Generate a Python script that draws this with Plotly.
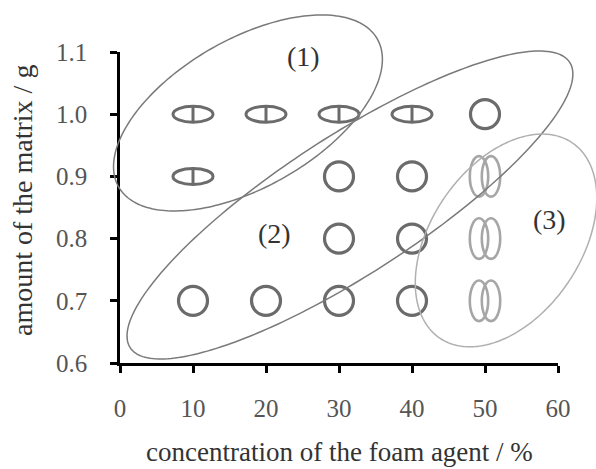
import numpy as np
import plotly.graph_objects as go

# ---------------- data ----------------
# region (1): flattened ellipse with a vertical bar
type1_x = [10, 20, 30, 40, 10]
type1_y = [1.0, 1.0, 1.0, 1.0, 0.9]
# region (2): circles
type2_x = [50, 30, 40, 30, 40, 10, 20, 30, 40]
type2_y = [1.0, 0.9, 0.9, 0.8, 0.8, 0.7, 0.7, 0.7, 0.7]
# region (3): double vertical ellipse
type3_x = [50, 50, 50]
type3_y = [0.9, 0.8, 0.7]

x_ticks = [0, 10, 20, 30, 40, 50, 60]
y_ticks = [0.6, 0.7, 0.8, 0.9, 1.0, 1.1]
y_ticktext = ["0.6", "0.7", "0.8", "0.9", "1.0", "1.1"]

region_labels = ["(1)", "(2)", "(3)"]
region_label_x = [25.1, 21.1, 58.9]
region_label_y = [1.093, 0.808, 0.830]

# enclosing regions: centre (data units), semi-axes (px), tilt (deg)
region_cx = [17.53, 31.5, 52.88]
region_cy = [1.002, 0.854, 0.797]
region_a = [149, 262, 118]
region_b = [74, 69, 75]
region_tilt = [29.8, 33.0, 55.9]
region_color = ["#7a7a7a", "#7a7a7a", "#b0b0b0"]

X_RANGE = [0, 60]
Y_RANGE = [0.6, 1.1]

# ---------------- layout geometry ----------------
W, H = 596, 469
ML, MR, MT, MB = 120, 38, 52, 106
PW, PH = W - ML - MR, H - MT - MB

SERIF = "Liberation Serif, Times New Roman, serif"
DARK = "#6b6b6b"
LIGHT = "#a6a6a6"

fig = go.Figure()

fig.add_trace(go.Scatter(
    x=type2_x, y=type2_y, mode="markers",
    marker=dict(symbol="circle-open", size=29, color=DARK,
                line=dict(width=3.2, color=DARK)),
    hoverinfo="skip", showlegend=False))

shapes = []
# type 1 markers
for x, y in zip(type1_x, type1_y):
    common = dict(xref="x", yref="y", xsizemode="pixel", ysizemode="pixel",
                  xanchor=x, yanchor=y, line=dict(color=DARK, width=3))
    shapes.append(dict(type="circle", x0=-20, x1=20, y0=-8, y1=8, **common))
    shapes.append(dict(type="line", x0=0, x1=0, y0=-8, y1=8, **common))
# type 3 markers
for x, y in zip(type3_x, type3_y):
    for off in (-6, 6):
        shapes.append(dict(type="circle", xref="x", yref="y",
                           xsizemode="pixel", ysizemode="pixel",
                           xanchor=x, yanchor=y,
                           x0=off - 9.2, x1=off + 9.2, y0=-20.3, y1=20.3,
                           line=dict(color=LIGHT, width=2.6)))

# enclosing ellipses (paper coordinates so they may leave the plot area)
t = np.linspace(0, 2 * np.pi, 241)
for cx, cy, a, b, ang, col in zip(region_cx, region_cy, region_a, region_b,
                                  region_tilt, region_color):
    th = np.radians(ang)
    dxp = a * np.cos(th) * np.cos(t) - b * np.sin(th) * np.sin(t)
    dyp = a * np.sin(th) * np.cos(t) + b * np.cos(th) * np.sin(t)
    px = (cx - X_RANGE[0]) / (X_RANGE[1] - X_RANGE[0]) + dxp / PW
    py = (cy - Y_RANGE[0]) / (Y_RANGE[1] - Y_RANGE[0]) + dyp / PH
    path = "M " + " L ".join(f"{u:.5f},{v:.5f}" for u, v in zip(px, py)) + " Z"
    shapes.append(dict(type="path", xref="paper", yref="paper", path=path,
                       line=dict(color=col, width=1.5), layer="above"))

annotations = []
for txt, x, y in zip(region_labels, region_label_x, region_label_y):
    annotations.append(dict(x=x, y=y, xref="x", yref="y", text=txt,
                            showarrow=False,
                            font=dict(family=SERIF, size=28, color="#333333")))
annotations.append(dict(x=0.5, y=-89 / PH, xref="paper", yref="paper",
                        text="concentration of the foam agent / %",
                        showarrow=False, yanchor="middle",
                        font=dict(family=SERIF, size=27, color="#333333")))
annotations.append(dict(x=-98 / PW, y=(363 - 201) / PH, xref="paper", yref="paper",
                        text="amount of the matrix / g", textangle=-90,
                        showarrow=False, xanchor="center", yanchor="middle",
                        font=dict(family=SERIF, size=28, color="#333333")))

fig.update_layout(
    width=W, height=H,
    margin=dict(l=ML, r=MR, t=MT, b=MB, pad=0),
    paper_bgcolor="white", plot_bgcolor="white",
    shapes=shapes, annotations=annotations,
    showlegend=False,
    xaxis=dict(range=X_RANGE, tickvals=x_ticks, showgrid=False, zeroline=False,
               showline=True, linecolor="black", linewidth=2.5,
               ticks="outside", ticklen=7, tickwidth=2.5, tickcolor="black",
               ticklabelstandoff=14,
               tickfont=dict(family=SERIF, size=25, color="#555555")),
    yaxis=dict(range=Y_RANGE, tickvals=y_ticks, ticktext=y_ticktext,
               showgrid=False, zeroline=False,
               showline=True, linecolor="black", linewidth=2.5,
               ticks="outside", ticklen=7, tickwidth=2.5, tickcolor="black",
               ticklabelstandoff=18,
               tickfont=dict(family=SERIF, size=25, color="#555555")),
)

fig.write_html("out.html")
